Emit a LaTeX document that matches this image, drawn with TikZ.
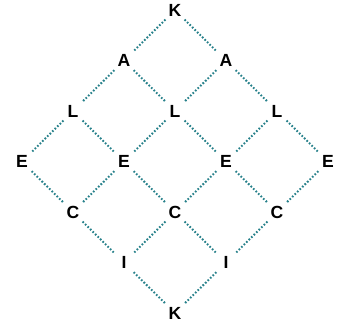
\documentclass[tikz,border=0pt]{standalone}
\usepackage{fontspec}
\setmainfont{Liberation Sans}
\definecolor{dotteal}{RGB}{38,128,138}
\tikzset{
  letter/.style={circle, fill=white, inner sep=0pt, minimum size=0.8cm,
    font=\fontsize{15}{17}\selectfont\bfseries},
  link/.style={dotteal, line width=1.7pt, dash pattern=on 1.4pt off 1.6pt}
}
\begin{document}
\begin{tikzpicture}
                \useasboundingbox (0, 0) rectangle (10.11, -9.96);
                % Letters:
                \node[letter](K1) at (5.25, -0.30){K};
                \node[letter](A1) at (3.72, -1.82){A};
                \node[letter](A2) at (6.78, -1.82){A};
                \node[letter](L1) at (2.19, -3.33){L};
                \node[letter](L2) at (5.25, -3.33){L};
                \node[letter](L3) at (8.31, -3.33){L};
                \node[letter](E1) at (0.66, -4.85){E};
                \node[letter](E2) at (3.72, -4.85){E};
                \node[letter](E3) at (6.78, -4.85){E};
                \node[letter](E4) at (9.84, -4.85){E};
                \node[letter](C1) at (2.19, -6.36){C};
                \node[letter](C2) at (5.25, -6.36){C};
                \node[letter](C3) at (8.31, -6.36){C};
                \node[letter](I1) at (3.72, -7.88){I};
                \node[letter](I2) at (6.78, -7.88){I};
                \node[letter](K2) at (5.25, -9.39){K};
                % Dotted links:
                \draw[link] (K1) -- (A1);
                \draw[link] (K1) -- (A2);
                \draw[link] (A1) -- (L1);
                \draw[link] (A1) -- (L2);
                \draw[link] (A2) -- (L2);
                \draw[link] (A2) -- (L3);
                \draw[link] (L1) -- (E1);
                \draw[link] (L1) -- (E2);
                \draw[link] (L2) -- (E2);
                \draw[link] (L2) -- (E3);
                \draw[link] (L3) -- (E3);
                \draw[link] (L3) -- (E4);
                \draw[link] (E1) -- (C1);
                \draw[link] (E2) -- (C1);
                \draw[link] (E2) -- (C2);
                \draw[link] (E3) -- (C2);
                \draw[link] (E3) -- (C3);
                \draw[link] (E4) -- (C3);
                \draw[link] (C1) -- (I1);
                \draw[link] (C2) -- (I1);
                \draw[link] (C2) -- (I2);
                \draw[link] (C3) -- (I2);
                \draw[link] (I1) -- (K2);
                \draw[link] (I2) -- (K2);
            \end{tikzpicture}
\end{document}
